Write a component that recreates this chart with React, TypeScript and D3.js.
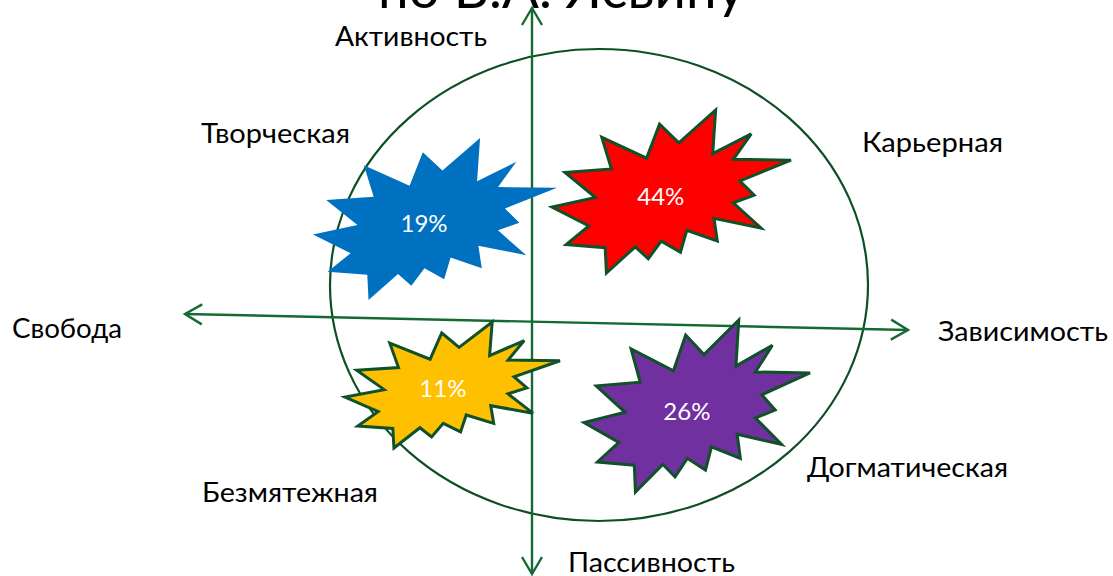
import React, { useEffect, useRef } from 'react'
import * as d3 from 'd3'

// типы образовательной среды и их доли
const types = ['Творческая', 'Карьерная', 'Безмятежная', 'Догматическая']
const shares = [19, 44, 11, 26]
const axisLabels = ['Активность', 'Пассивность', 'Свобода', 'Зависимость']
const title = 'по В.А. Ясвину'

// контур фигуры "Взрыв 2" (irregularSeal2), в единицах 21600 x 21600
const sealPoints: [number, number][] = [
	[11462, 4342], [14790, 0], [14525, 5777], [18007, 3172], [16380, 6532],
	[21600, 6645], [16985, 9402], [18270, 11290], [16380, 12310], [18877, 15632],
	[14640, 14350], [14942, 17370], [12180, 15935], [11612, 18842], [9872, 17370],
	[8700, 19712], [7527, 18125], [4917, 21600], [4805, 18240], [1285, 17825],
	[3330, 15370], [0, 12877], [3935, 11592], [1172, 8270], [5372, 7817],
	[4502, 3625], [8550, 6382], [9722, 1887]
]

const width = 1113
const height = 576
const font = 'Lato, Carlito, "Open Sans", sans-serif'
const axisColor = '#146b32'
const ringColor = '#0d4f25'
const outlineColor = '#0f5128'

// размещение (пиксели страницы)
const burstLayout = [
	{ box: [313, 138, 557, 300], fill: '#0070c0', outline: false, label: [201, 143], len: 149 },
	{ box: [552, 110, 791, 273], fill: '#ff0000', outline: true, label: [862, 152], len: 141 },
	{ box: [345, 322, 560, 448], fill: '#ffc000', outline: true, label: [202, 502], len: 176 },
	{ box: [584, 320, 810, 492], fill: '#7030a0', outline: true, label: [807, 477], len: 201 }
]
const axisLabelLayout = [
	{ pos: [335, 46], len: 152 },
	{ pos: [568, 572], len: 167 },
	{ pos: [12, 338], len: 110 },
	{ pos: [938, 341], len: 170 }
]

const App = () => {
	const ref = useRef<SVGSVGElement>(null)

	useEffect(() => {
		if (!ref.current) return
		const svg = d3.select(ref.current)
		svg.selectAll('*').remove()

		// заголовок, обрезанный верхним краем
		svg
			.append('text')
			.attr('x', 378)
			.attr('y', 8)
			.attr('font-family', font)
			.attr('font-size', 54)
			.attr('textLength', 367)
			.attr('lengthAdjust', 'spacingAndGlyphs')
			.attr('fill', '#000')
			.text(title)

		// эллипс
		svg
			.append('ellipse')
			.attr('cx', 599)
			.attr('cy', 285)
			.attr('rx', 269)
			.attr('ry', 236)
			.attr('fill', 'none')
			.attr('stroke', ringColor)
			.attr('stroke-width', 2.2)

		// оси со стрелками
		const arrows = [
			[[532, 574], [532, 8]],
			[[532, 8], [532, 574]],
			[[908, 330], [185, 314]],
			[[185, 314], [908, 330]]
		]
		const axes = svg.append('g').attr('stroke', axisColor).attr('stroke-width', 2.4).attr('fill', 'none')
		arrows.forEach(([a, b], i) => {
			if (i % 2 === 1) {
				axes.append('line').attr('x1', a[0]).attr('y1', a[1]).attr('x2', b[0]).attr('y2', b[1])
			}
			const ang = Math.atan2(b[1] - a[1], b[0] - a[0])
			const head = d3.line()
			const back = 17
			const side = 10
			const p1: [number, number] = [
				b[0] - back * Math.cos(ang) - side * Math.sin(ang),
				b[1] - back * Math.sin(ang) + side * Math.cos(ang)
			]
			const p2: [number, number] = [
				b[0] - back * Math.cos(ang) + side * Math.sin(ang),
				b[1] - back * Math.sin(ang) - side * Math.cos(ang)
			]
			axes.append('path').attr('d', head([p1, [b[0], b[1]], p2]))
		})

		// взрывы
		burstLayout.forEach((b, i) => {
			const [x0, y0, x1, y1] = b.box
			const x = d3.scaleLinear().domain([0, 21600]).range([x0, x1])
			const y = d3.scaleLinear().domain([0, 21600]).range([y0, y1])
			const line = d3
				.line<[number, number]>()
				.x(d => x(d[0]))
				.y(d => y(d[1]))
				.curve(d3.curveLinearClosed)
			svg
				.append('path')
				.attr('d', line(sealPoints))
				.attr('fill', b.fill)
				.attr('stroke', b.outline ? outlineColor : 'none')
				.attr('stroke-width', 3)
				.attr('stroke-linejoin', 'miter')
			svg
				.append('text')
				.attr('x', x(9830))
				.attr('y', y(11450))
				.attr('dy', '0.35em')
				.attr('text-anchor', 'middle')
				.attr('font-family', font)
				.attr('font-size', 24)
				.attr('fill', '#fff')
				.text(`${shares[i]}%`)
			svg
				.append('text')
				.attr('x', b.label[0])
				.attr('y', b.label[1])
				.attr('font-family', font)
				.attr('font-size', 26)
				.attr('textLength', b.len)
				.attr('lengthAdjust', 'spacingAndGlyphs')
				.attr('fill', '#000')
				.text(types[i])
		})

		axisLabels.forEach((t, i) => {
			const l = axisLabelLayout[i]
			svg
				.append('text')
				.attr('x', l.pos[0])
				.attr('y', l.pos[1])
				.attr('font-family', font)
				.attr('font-size', 26)
				.attr('textLength', l.len)
				.attr('lengthAdjust', 'spacingAndGlyphs')
				.attr('fill', '#000')
				.text(t)
		})
	}, [])

	return (
		<svg
			ref={ref}
			width={width}
			height={height}
			style={{ position: 'absolute', left: 0, top: 0, background: '#fff' }}
		/>
	)
}

export default App
